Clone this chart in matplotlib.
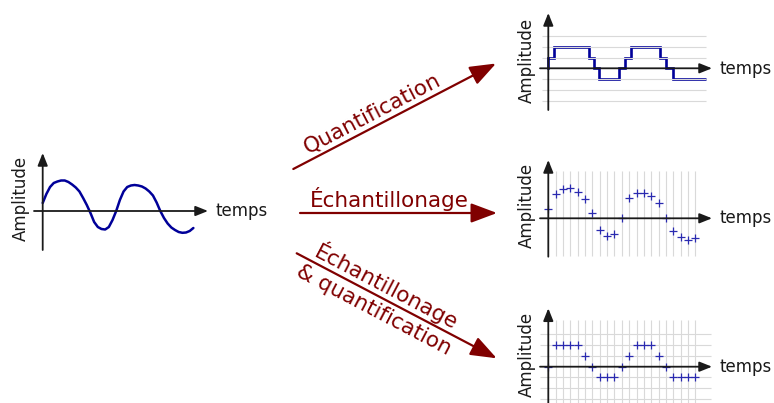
import numpy as np
import matplotlib.pyplot as plt

# continuous signal (time in sample units, amplitude in px-like units)
curve_t = [0, 0.5, 1, 1.5, 2, 2.5, 3, 3.5, 4, 4.5, 5, 5.5, 6, 6.5, 7, 7.5, 8, 8.5, 9, 9.5,
           10, 10.5, 11, 11.5, 12, 12.5, 13, 13.5, 14, 14.5, 15, 15.5, 16, 16.5, 17, 17.5,
           18, 18.5, 19, 19.5, 20, 20.5]
curve_a = [8, 17, 24, 28, 29.5, 30.5, 30.5, 29, 26.5, 23.5, 19.5, 13, 6, -2, -11, -16,
           -18, -18.5, -16, -9, 0, 11, 19.5, 24, 25.5, 26, 25.5, 24.5, 22.5, 19.5, 15.5,
           8.5, 0, -7, -12.5, -16.5, -19, -21, -21.8, -21.5, -20, -17]

# quantified signal (step edges in sample units, levels)
step_edges = [0, 0.78, 5.58, 6.26, 6.94, 9.66, 10.43, 11.21, 15.2, 16.01, 16.92, 21.4]
step_levels = [1, 2, 1, 0, -1, 0, 1, 2, 1, 0, -1]

# sampled signal
sample_t = np.arange(21)
sample_a = [9, 24, 29.3, 30.7, 26.3, 19.3, 5.7, -11.7, -17.7, -15.7, 0, 20.3, 25.7, 25.7,
            22.3, 15.7, 0, -12.7, -19, -21.7, -20]

# sampled + quantified
sample_q = [0, 2, 2, 2, 2, 1, 0, -1, -1, -1, 0, 1, 2, 2, 2, 1, 0, -1, -1, -1, -1]
grid_levels = [-3, -2, -1, 1, 2, 3]

W, H = 774, 403
fig = plt.figure(figsize=(W / 100, H / 100), dpi=100)

BLUE = '#000099'
PLUS = '#2a2ab0'
RED = '#800000'
GRID = '#d9d9d9'
INK = '#1a1a1a'
SX = 7.35      # px per sample
SL = 10.75     # px per level


def panel(left, top, right, bottom, ox, oy, sx, sy):
    ax = fig.add_axes([left / W, 1 - bottom / H, (right - left) / W, (bottom - top) / H])
    ax.set_xlim((left - ox) / sx, (right - ox) / sx)
    ax.set_ylim((oy - bottom) / sy, (oy - top) / sy)
    ax.axis('off')
    return ax


def axes_arrows(ax, x0, x1, y0, y1):
    kw = dict(arrowstyle='-|>,head_length=0.75,head_width=0.3', color=INK, lw=1.3,
              shrinkA=0, shrinkB=0)
    ax.annotate('', xy=(x1, 0), xytext=(x0, 0), arrowprops=kw, annotation_clip=False)
    ax.annotate('', xy=(0, y1), xytext=(0, y0), arrowprops=kw, annotation_clip=False)


# left: continuous signal
ax = panel(30, 148, 215, 255, 42.7, 211, SX, 1)
ax.plot(curve_t, curve_a, color=BLUE, lw=1.8, solid_capstyle='round')
axes_arrows(ax, (34 - 42.7) / SX, (208 - 42.7) / SX, -39, 58)

# top right: quantification
ax = panel(535, 8, 716, 115, 548.3, 68.3, SX, SL)
ax.hlines(grid_levels, (542 - 548.3) / SX, (706 - 548.3) / SX, color=GRID, lw=0.8)
ax.stairs(step_levels, step_edges, baseline=None, color=BLUE, lw=1.9)
ax.plot([0, 0], [0, step_levels[0]], color=BLUE, lw=1.9)
axes_arrows(ax, (540 - 548.3) / SX, (712 - 548.3) / SX, (68.3 - 110) / SL, (68.3 - 13) / SL)

# middle right: sampling
ax = panel(535, 155, 716, 260, 548.3, 218.3, SX, 1)
ax.vlines(sample_t[1:], 218.3 - 256, 218.3 - 171, color=GRID, lw=0.8)
ax.plot(sample_t, sample_a, ls='none', marker='+', ms=5.5, mew=0.9, color=PLUS)
axes_arrows(ax, (540 - 548.3) / SX, (712 - 548.3) / SX, -38.4, 58.3)

# bottom right: sampling + quantification
ax = panel(535, 303, 716, 403, 548.3, 366.7, SX, SL)
ax.vlines(sample_t[1:], (366.7 - 403) / SL, (366.7 - 320) / SL, color=GRID, lw=0.8)
ax.hlines(grid_levels, (540 - 548.3) / SX, (711 - 548.3) / SX, color=GRID, lw=0.8)
ax.plot(sample_t, sample_q, ls='none', marker='+', ms=5.5, mew=0.9, color=PLUS)
axes_arrows(ax, (540 - 548.3) / SX, (712 - 548.3) / SX, (366.7 - 403) / SL, (366.7 - 308.3) / SL)

# overlay: big arrows and labels (pixel coordinates)
ov = fig.add_axes([0, 0, 1, 1])
ov.set_xlim(0, W)
ov.set_ylim(H, 0)
ov.axis('off')

big = dict(arrowstyle='-|>,head_length=0.8,head_width=0.3', color=RED, lw=1.6,
           shrinkA=0, shrinkB=0, mutation_scale=20)
ov.annotate('', xy=(496, 63.5), xytext=(293.3, 169), arrowprops=big)
ov.annotate('', xy=(497, 213), xytext=(300, 213), arrowprops=big)
ov.annotate('', xy=(496.7, 358.3), xytext=(296.7, 253.3), arrowprops=big)

tk = dict(color=RED, fontsize=15.5, ha='center', va='center', rotation_mode='anchor')
ov.text(372, 113, 'Quantification', rotation=27.5, **tk)
ov.text(389, 199, 'Échantillonage', **tk)
ov.text(387, 286, 'Échantillonage', rotation=-27.7, **tk)
ov.text(373.5, 310, '& quantification', rotation=-27.7, **tk)

lk = dict(color=INK, fontsize=12)
ov.text(215, 211, 'temps', ha='left', va='center', **lk)
for y in [69, 218, 367]:
    ov.text(720, y, 'temps', ha='left', va='center', **lk)
for x, y in [(21, 198), (526.5, 60.5), (526.5, 205.5), (526.5, 354)]:
    ov.text(x, y, 'Amplitude', rotation=90, ha='center', va='center', **lk)

fig.savefig('out.png', dpi=100)
